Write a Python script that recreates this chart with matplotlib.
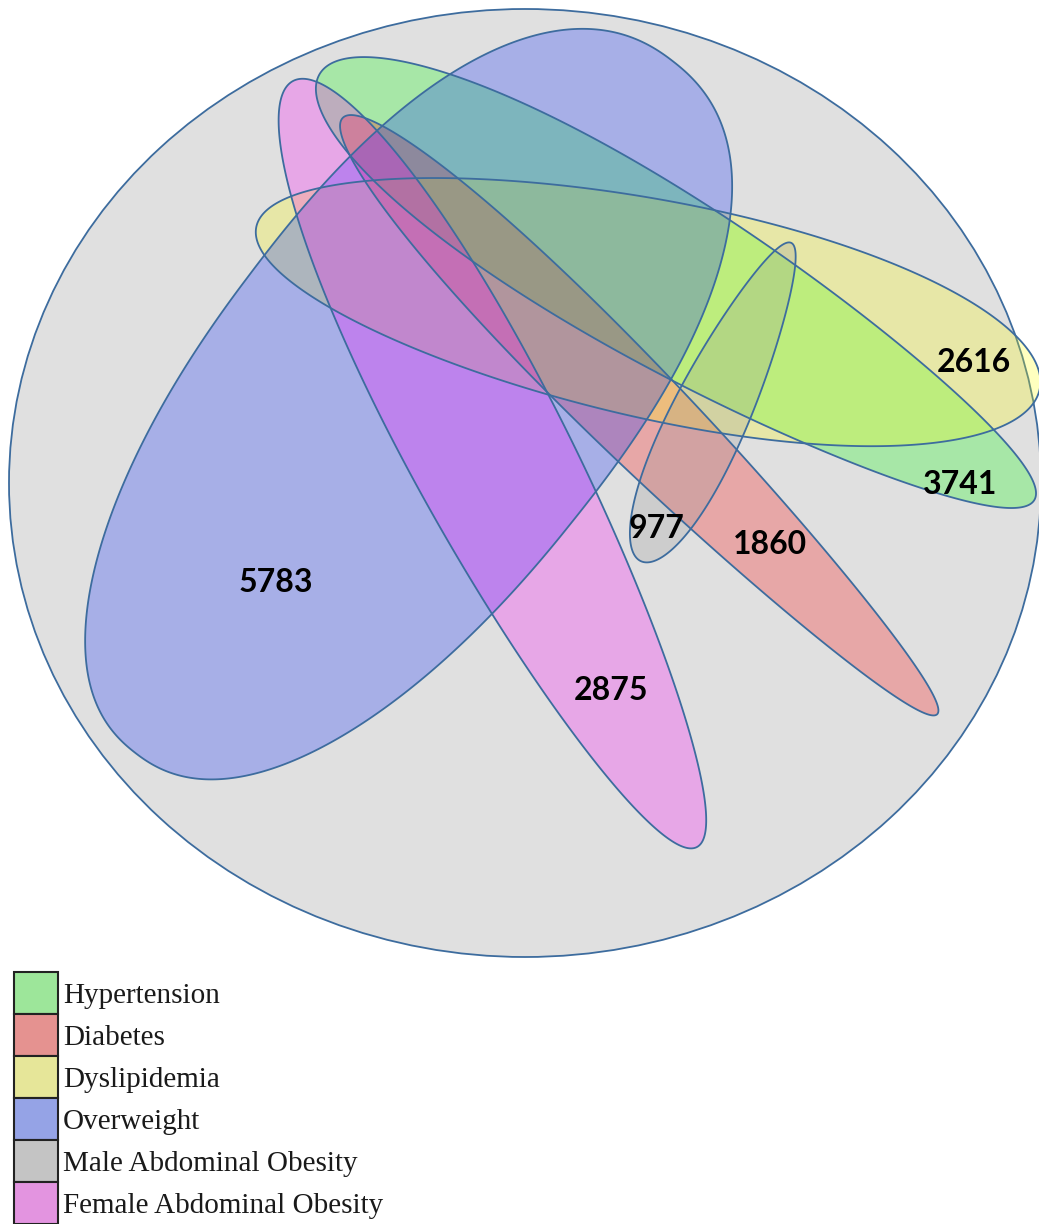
import numpy as np
import matplotlib
matplotlib.use('Agg')
import matplotlib.pyplot as plt
from matplotlib.patches import Ellipse, Polygon, Rectangle

# sets, legend order
names = ['Hypertension', 'Diabetes', 'Dyslipidemia', 'Overweight',
         'Male Abdominal Obesity', 'Female Abdominal Obesity']
fills = ['#00ff00', '#ff0000', '#ffff00', '#0020ff', '#969696', '#ff00ff']
legend_cols = ['#9de69a', '#e59290', '#e6e699', '#95a3e6', '#c4c4c4', '#e394e0']

# egg shape of each set (pixel space): centre, half axes, tilt (deg, counter-clockwise),
# taper (>0 wider at the far end) and squareness (2 = plain ellipse)
cx = [677, 640, 648, 404, 716, 495]
cy = [287, 416, 308, 407, 402, 464]
half_len = [416, 421, 400, 438, 176, 433]
half_wid = [85, 48, 109, 203, 38, 79]
tilt = [-30.8, -45.1, -11.7, 52.1, 64.7, -62.2]
taper = [-0.2, -0.2, 0.08, 0.06, -0.25, -0.12]
power = [2.0, 2.0, 2.0, 2.25, 2.0, 2.0]

# numbers printed in the diagram
counts = ['5783', '2875', '977', '1860', '2616', '3741']
count_x = [276, 611, 657, 770, 974, 960]
count_y = [583, 690, 528, 545, 362, 485]

W, H = 1039, 1224


def egg(x0, y0, a, b, deg, k, p, n=600):
    t = np.linspace(0, 2 * np.pi, n)
    c, s = np.cos(t), np.sin(t)
    u = a * np.sign(c) * np.abs(c) ** (2 / p)
    v = b * np.sign(s) * np.abs(s) ** (2 / p) * (1 + k * c)
    th = np.radians(deg)
    # y axis points down on screen
    x = x0 + u * np.cos(th) + v * np.sin(th)
    y = y0 - u * np.sin(th) + v * np.cos(th)
    return np.column_stack([x, y])


fig = plt.figure(figsize=(W / 100, H / 100), dpi=100)
ax = fig.add_axes([0, 0, 1, 1])
ax.set_xlim(0, W)
ax.set_ylim(H, 0)
ax.axis('off')

edge = '#3d6c9e'
ax.add_patch(Ellipse((525, 483), 1032, 948, facecolor='#e0e0e0',
                     edgecolor=edge, lw=1.3, zorder=1))

shapes = [egg(cx[i], cy[i], half_len[i], half_wid[i], tilt[i], taper[i], power[i])
          for i in range(len(names))]
for pts, col in zip(shapes, fills):
    ax.add_patch(Polygon(pts, closed=True, facecolor=col, alpha=0.25,
                         edgecolor='none', zorder=2))
for pts in shapes:
    ax.add_patch(Polygon(pts, closed=True, facecolor='none',
                         edgecolor=edge, lw=1.3, zorder=3))

for s, x, y in zip(counts, count_x, count_y):
    ax.text(x, y, s, fontsize=23, fontweight='bold', family='Lato',
            ha='center', va='center', color='black', zorder=4)

# legend
for i, name in enumerate(names):
    top = 972 + 42 * i
    ax.add_patch(Rectangle((14, top), 44, 42, facecolor=legend_cols[i],
                           edgecolor='#222222', lw=1.5, zorder=4))
    ax.text(63, top + 24, name, fontsize=21, family='Liberation Serif',
            ha='left', va='center', color='#1a1a1a', zorder=4)

fig.savefig('out.png', dpi=100)
